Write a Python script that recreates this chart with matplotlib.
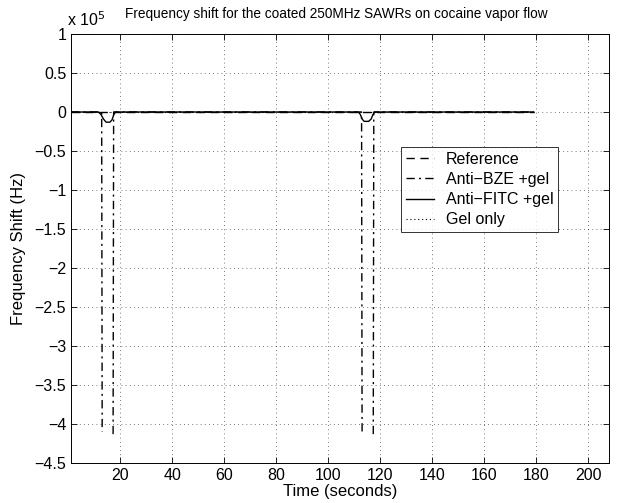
import numpy as np
import matplotlib
matplotlib.use("Agg")
import matplotlib.pyplot as plt

plt.rcParams['font.family'] = ['Liberation Sans', 'DejaVu Sans']

nan = np.nan
# Reference (dashed)
ref_t = [1, 60, 120, 179]
ref_y = [0, 0, 0, 0]
# Anti-BZE +gel (dash-dot)
bze_t = [1, 12.8, 13.0, 15.0, 17.2, 17.4, 112.8, 113.0, 115.0, 117.3, 117.5, 179]
bze_y = [0, 0, -410000, nan, -413000, 0, 0, -410000, nan, -413000, 0, 0]
# Anti-FITC +gel (solid)
fitc_t = [1, 11.5, 12.5, 13.5, 14.5, 16.0, 16.8, 17.5, 18.2,
          111.5, 112.3, 113.0, 113.8, 115.5, 116.5, 117.2, 117.9, 179]
fitc_y = [0, 0, -3000, -9000, -13000, -13000, -10000, -3000, 0,
          0, -3000, -9000, -12000, -12000, -9000, -3000, 0, 0]
# Gel only (dotted)
gel_t = [1, 60, 120, 179]
gel_y = [0, 0, 0, 0]

xticks = [20, 40, 60, 80, 100, 120, 140, 160, 180, 200]
yticks = [1, 0.5, 0, -0.5, -1, -1.5, -2, -2.5, -3, -3.5, -4, -4.5]
ytick_labels = ['1', '0.5', '0', '\u22120.5', '\u22121', '\u22121.5', '\u22122', '\u22122.5',
                '\u22123', '\u22123.5', '\u22124', '\u22124.5']

fig = plt.figure(figsize=(6.17, 5.03), dpi=100)
ax = fig.add_axes([71/617, 1 - 463/503, (609-71)/617, (463-34)/503])

ax.plot(ref_t, ref_y, color='black', linestyle=(0, (6, 4)), linewidth=1.0, label='Reference')
ax.plot(bze_t, bze_y, color='black', linestyle=(0, (6, 3, 1.5, 3)), linewidth=1.0, label='Anti\u2212BZE +gel')
ax.plot(fitc_t, fitc_y, color='black', linestyle='-', linewidth=1.0, label='Anti\u2212FITC +gel')
ax.plot(gel_t, gel_y, color='black', linestyle=(0, (1, 2.5)), linewidth=0.8, label='Gel only')

ax.set_xlim(1, 208)
ax.set_ylim(-4.5e5, 1e5)
ax.set_xticks(xticks)
ax.set_yticks([v * 1e5 for v in yticks])
ax.set_yticklabels(ytick_labels)
ax.tick_params(direction='in', top=True, right=True, labelsize=11.5, length=4, width=0.6)
ax.grid(True, linestyle=(0, (1, 4)), color='black', linewidth=0.6, alpha=0.7)
for s in ax.spines.values():
    s.set_linewidth(0.7)

ax.set_xlabel('Time (seconds)', fontsize=12, labelpad=1)
ax.set_ylabel('Frequency Shift (Hz)', fontsize=12, labelpad=6)
fig.text(336/617, 1 - 14/503, 'Frequency shift for the coated 250MHz SAWRs on cocaine vapor flow',
         fontsize=9.8, ha='center', va='center')
fig.text(67/617, 1 - 20/503, r'x 10$^{5}$', fontsize=11.5, va='center', ha='left')

leg = ax.legend(loc='upper left', bbox_to_anchor=(0.613, 0.737), fontsize=11.5,
                frameon=True, fancybox=False, edgecolor='black', handlelength=1.8,
                borderpad=0.3, labelspacing=0.33, handletextpad=0.7, borderaxespad=0)
leg.get_frame().set_linewidth(0.7)

fig.savefig('out.png', dpi=100)
